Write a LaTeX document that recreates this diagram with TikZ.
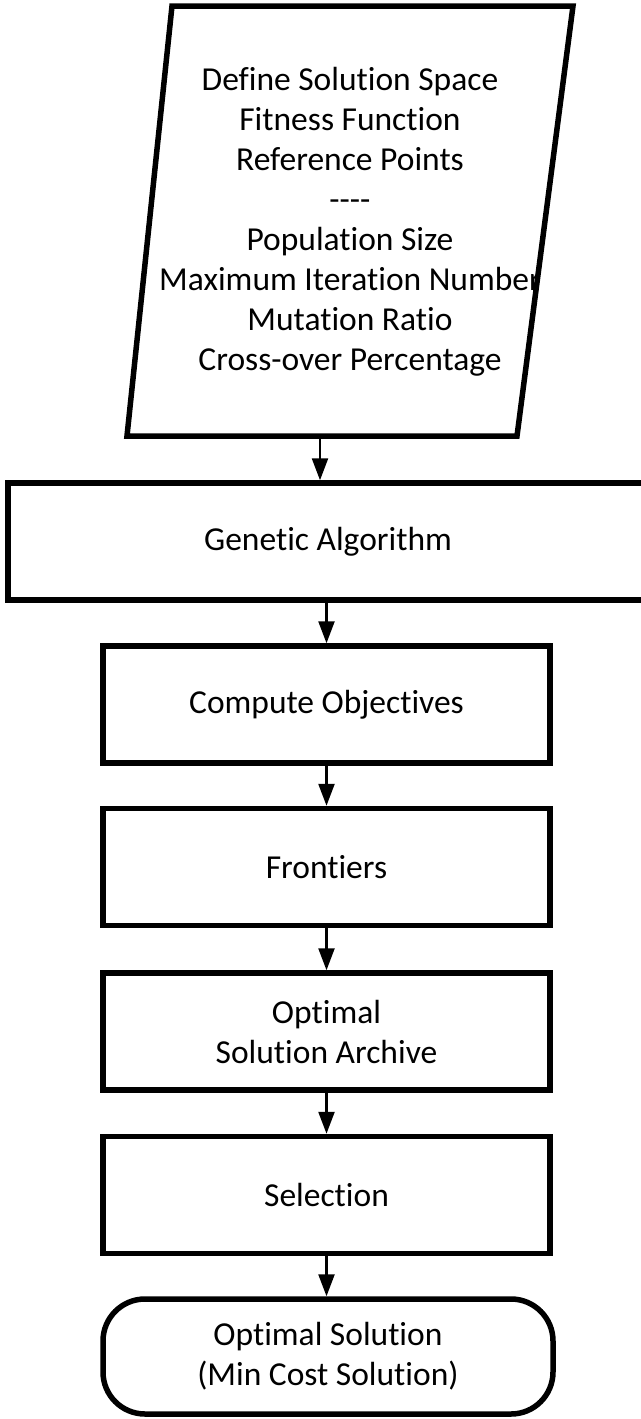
\documentclass[tikz,border=0pt]{standalone}
\usepackage{fontspec}
\setmainfont{Carlito}[Ligatures={NoCommon}]
\usetikzlibrary{arrows.meta}
\begin{document}
\begin{tikzpicture}[x=1pt,y=-1pt,
  frame/.style={draw=black, line width=5.5pt, line join=miter},
  box/.style={frame, rectangle, fill=white, inner sep=0pt, align=center,
    minimum width=447pt, minimum height=117pt},
  term/.style={box, rounded corners=42pt},
  arr/.style={draw=black, line width=2.4pt, -{Triangle[length=22pt,width=16pt]}},
  txt/.style={font=\fontsize{33.5}{40}\selectfont}]
\useasboundingbox (0,0) rectangle (640,1419);
% input parallelogram
\coordinate (tl) at (172,6);
\coordinate (tr) at (573,6);
\coordinate (br) at (517,436);
\coordinate (bl) at (127,436);
\draw[frame] (tl) -- (tr) -- (br) -- (bl) -- cycle;
\node[txt, align=center, inner sep=0pt] (inp) at (350,222) {Define Solution Space\\Fitness Function\\Reference Points\\-{}-{}-{}-\\Population Size\\Maximum Iteration Number\\Mutation Ratio\\Cross-over Percentage};
\coordinate (pb) at (320,436);
% process boxes
\node[box, txt, minimum width=640pt, minimum height=117pt] (ga) at (328,541.5) {Genetic Algorithm};
\node[box, txt] (co) at (326.5,704.5) {Compute Objectives};
\node[box, txt] (fr) at (326.5,867) {Frontiers};
\node[box, txt] (ar) at (326.5,1031.5) {Optimal\\Solution Archive};
\node[box, txt] (se) at (326.5,1195) {Selection};
\node[term, txt, minimum width=450pt, minimum height=115pt] (os) at (328,1356.5) {Optimal Solution\\(Min Cost Solution)};
% connectors
\draw[arr] (pb) -- (pb |- ga.north);
\draw[arr] (ga.south -| co.north) -- (co.north);
\draw[arr] (co) -- (fr);
\draw[arr] (fr) -- (ar);
\draw[arr] (ar) -- (se);
\draw[arr] (se.south) -- (se.south |- os.north);
\end{tikzpicture}
\end{document}
